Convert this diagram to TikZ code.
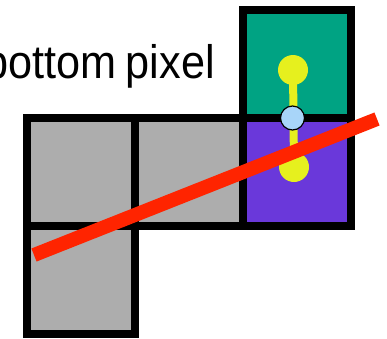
\documentclass[tikz,border=0pt]{standalone}
\usepackage{fontspec}
\setmainfont{Liberation Sans}
\usetikzlibrary{positioning}
\def\wGrid{8pt}
\def\wRay{14pt}
\def\wStem{8pt}
\definecolor{cGray}{HTML}{ADADAD}
\definecolor{cTeal}{HTML}{00A383}
\definecolor{cPurple}{HTML}{6A38DA}
\definecolor{cDot}{HTML}{E6F01E}
\definecolor{cHit}{HTML}{A8D5F9}
\definecolor{cRay}{HTML}{FF2400}
\tikzset{
  pix/.style={draw=black, line width=\wGrid, minimum size=108pt, inner sep=0pt, outer sep=0pt, fill=cGray},
  top/.style={pix, fill=cTeal},
  bot/.style={pix, fill=cPurple},
  dot/.style={circle, fill=cDot, minimum size=30pt, inner sep=0pt},
  hit/.style={circle, draw=black, line width=1.2pt, fill=cHit, minimum size=24pt, inner sep=0pt},
  stem/.style={draw=cDot, line width=\wStem},
  ray/.style={draw=cRay, line width=\wRay},
  lbl/.style={font=\fontsize{47}{52}\selectfont, inner sep=0pt, xscale=0.92},
}

\begin{document}
\begin{tikzpicture}[x=1pt, y=-1pt]
% page is 387 x 338, y grows downward like the screenshot
\clip (0,0) rectangle (387,338);
\node[lbl, anchor=base east] (cap) at (215,78) {bottom\hspace{10.5pt}pixel};
% pixels
\node[pix] (g1) at (81,172) {};
\node[pix, right=0pt of g1] (g2) {};
\node[pix, below=0pt of g1] (g3) {};
\node[bot, right=0pt of g2] (p) {};
\node[top, above=0pt of p] (t) {};
% the two candidate samples
\node[dot] (d1) at (293,70) {};
\node[dot] (d2) at (294,167) {};
\draw[stem] (d1.center) -- (d2.center);
\node[hit] (h) at (292.5,118) {};
% the edge
\coordinate (r0) at (34,255);
\coordinate (r1) at (377,119);
\draw[ray] (r0) -- (r1);
\end{tikzpicture}
\end{document}
